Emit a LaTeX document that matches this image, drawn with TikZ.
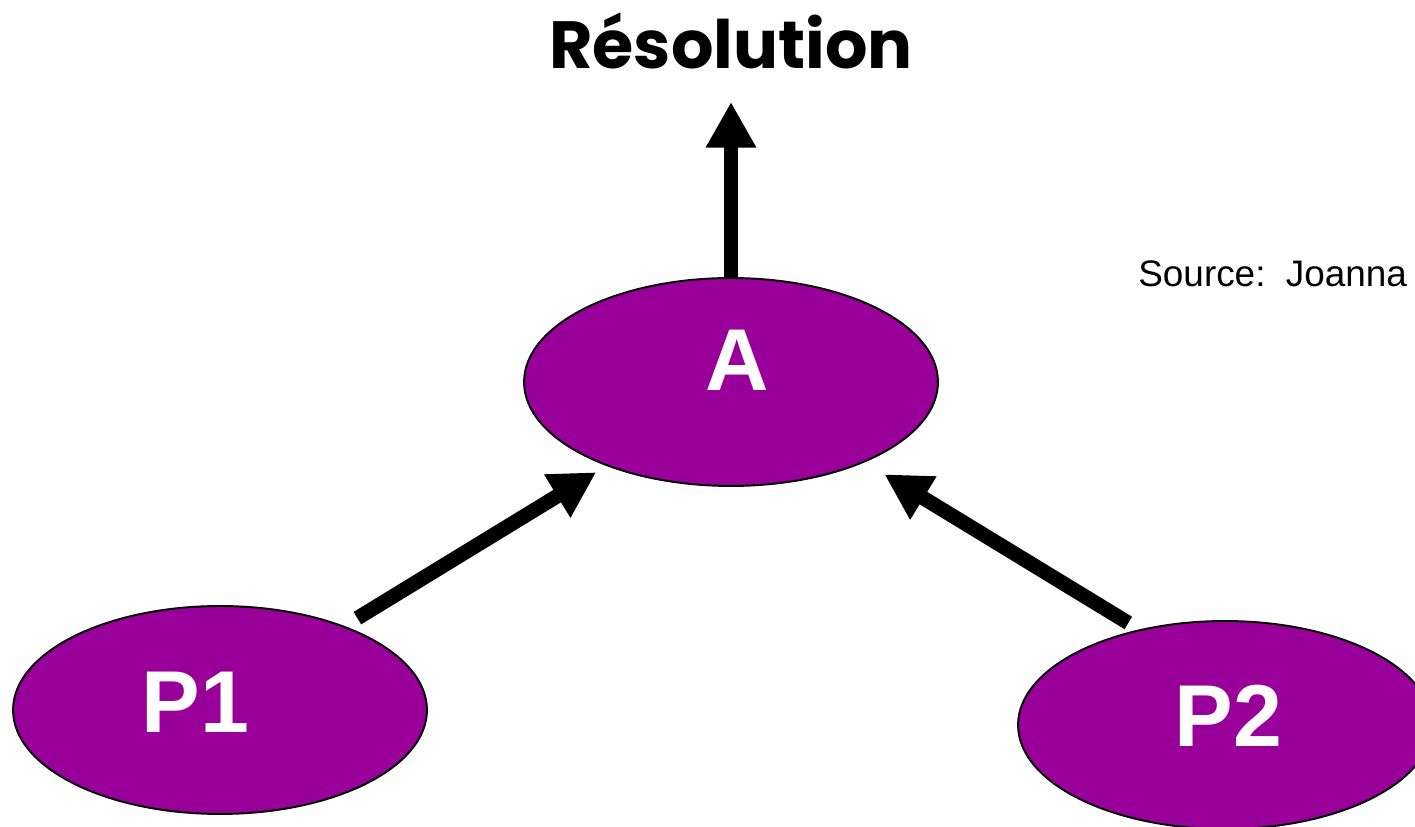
\documentclass[tikz,border=0pt]{standalone}
\usepackage{fontspec}
\setmainfont{Liberation Sans}
\newfontfamily\titlefont{Poppins}
\usetikzlibrary{shapes.geometric}
\usetikzlibrary{arrows.meta}
\definecolor{blobpurple}{HTML}{990099}
\tikzset{
  blob/.style={ellipse, draw=black, line width=1.1pt, fill=blobpurple,
    minimum width=8.28cm, minimum height=4.16cm, inner sep=0pt},
  bloblabel/.style={text=white, inner sep=0pt,
    font=\fontsize{50}{60}\selectfont\bfseries},
  fatarrow/.style={line width=8.3pt, -{Triangle[length=26pt,width=27pt]}}
}

\begin{document}
\begin{tikzpicture}[x=0.02cm,y=0.02cm]
  \clip (0,0) rectangle (1415,827);

  \node[font=\titlefont\bfseries\fontsize{38}{46}\selectfont, anchor=base, inner sep=0pt]
    (title) at (731,758) {Résolution};
  \coordinate (restip) at (731,725);

  \node[blob, label={[bloblabel, xshift=3.4pt, yshift=12.2pt]center:A}] (A) at (731,445) {};
  \node[blob, label={[bloblabel, xshift=-14pt, yshift=4.5pt]center:P1}] (P1) at (220,117) {};
  \node[blob, label={[bloblabel, xshift=2pt, yshift=5.4pt]center:P2}] (P2) at (1225,102) {};

  \node[font=\fontsize{21}{25}\selectfont, anchor=base west, inner sep=0pt]
    (source) at (1138,540) {Source:\ \ Joanna};

  \draw[fatarrow] (A.north) -- (restip);
  \draw[fatarrow, shorten <=0.3cm, shorten >=0.24cm] (P1.34) -- (A.214);
  \draw[fatarrow, shorten <=0.25cm, shorten >=0.46cm] (P2.132) -- (A.329);
\end{tikzpicture}
\end{document}
